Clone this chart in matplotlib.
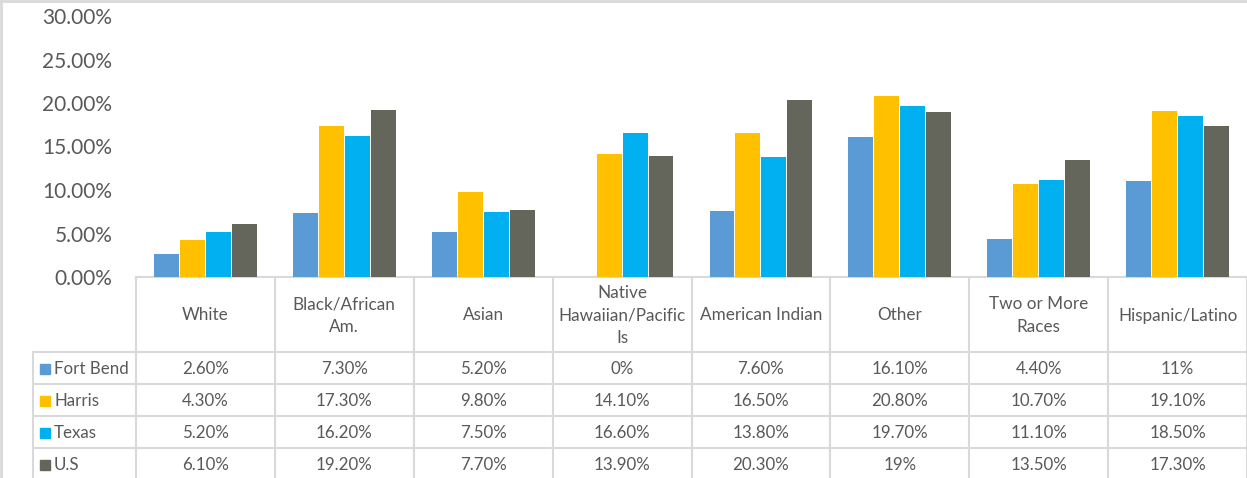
import matplotlib
matplotlib.use("Agg")
import matplotlib.pyplot as plt
from matplotlib.lines import Line2D
from matplotlib.patches import Rectangle
import numpy as np

plt.rcParams['font.family'] = ['Lato', 'DejaVu Sans']

categories = ["White", "Black/African\nAm.", "Asian", "Native\nHawaiian/Pacific\nIs",
              "American Indian", "Other", "Two or More\nRaces", "Hispanic/Latino"]
series_names = ["Fort Bend", "Harris", "Texas", "U.S"]
fort_bend = [2.6, 7.3, 5.2, 0, 7.6, 16.1, 4.4, 11]
harris = [4.3, 17.3, 9.8, 14.1, 16.5, 20.8, 10.7, 19.1]
texas = [5.2, 16.2, 7.5, 16.6, 13.8, 19.7, 11.1, 18.5]
us = [6.1, 19.2, 7.7, 13.9, 20.3, 19, 13.5, 17.3]
y_ticks = [0, 5, 10, 15, 20, 25, 30]

colors = ["#5B9BD5", "#FFC000", "#00B0F0", "#64665C"]
text_color = "#595959"
grid_color = "#D9D9D9"

W, H = 1247, 478
fig = plt.figure(figsize=(W / 100, H / 100), dpi=100)

# pixel layout
left, right = 136, 1247
y0_px, ytop_px = 277, 16
ax = fig.add_axes([left / W, (H - y0_px) / H, (right - left) / W, (y0_px - ytop_px) / H])

series = [fort_bend, harris, texas, us]
n = len(categories)
x = np.arange(n)
bw = 26 / 139
for i, (vals, c) in enumerate(zip(series, colors)):
    ax.bar(x + (i - 1.5) * bw, np.array(vals) / 100, width=bw * 0.96, color=c, zorder=2)

ax.set_xlim(-0.5, n - 0.5)
ax.set_ylim(0, 0.30)
ax.set_yticks([t / 100 for t in y_ticks])
ax.set_yticklabels([f"{t:.2f}%" for t in y_ticks], fontsize=15, color=text_color)
ax.tick_params(axis='y', length=0, pad=17)
ax.set_xticks([])
for s in ax.spines.values():
    s.set_visible(False)
ax.patch.set_alpha(0)

# table overlay in pixel coordinates
tab = fig.add_axes([0, 0, 1, 1], zorder=-1)
tab.set_xlim(0, W)
tab.set_ylim(H, 0)
tab.axis('off')

cat_w = (right - left) / n
row_lines = [352, 384, 416, 448]
leg_left = 33
lw = 1.5

# horizontal lines
tab.add_line(Line2D([left, W], [y0_px, y0_px], color=grid_color, lw=lw))
for yl in row_lines:
    tab.add_line(Line2D([leg_left, W], [yl, yl], color=grid_color, lw=lw))
# vertical lines
for k in range(n + 1):
    xv = left + k * cat_w
    tab.add_line(Line2D([xv, xv], [y0_px, H], color=grid_color, lw=lw))
tab.add_line(Line2D([leg_left, leg_left], [row_lines[0], H], color=grid_color, lw=lw))

# header labels
for k, cat in enumerate(categories):
    tab.text(left + (k + 0.5) * cat_w, (y0_px + row_lines[0]) / 2 + 1, cat,
             ha='center', va='center', fontsize=12.3, color=text_color, linespacing=1.5)

def fmt(v):
    if float(v).is_integer():
        return f"{int(v)}%"
    return f"{v:.2f}%"

row_bounds = row_lines + [H + 3]
for r, (name, vals, c) in enumerate(zip(series_names, series, colors)):
    yc = (row_bounds[r] + row_bounds[r + 1]) / 2 + 0.5
    tab.add_patch(Rectangle((40, yc - 5), 10, 10, color=c))
    tab.text(54, yc, name, ha='left', va='center', fontsize=12.2, color=text_color)
    for k, v in enumerate(vals):
        tab.text(left + (k + 0.5) * cat_w, yc, fmt(v), ha='center', va='center',
                 fontsize=12.2, color=text_color)

# chart border (top and left visible)
tab.add_line(Line2D([1, W], [1, 1], color=grid_color, lw=2))
tab.add_line(Line2D([1, 1], [1, H], color=grid_color, lw=2))

fig.savefig("out.png", dpi=100)
